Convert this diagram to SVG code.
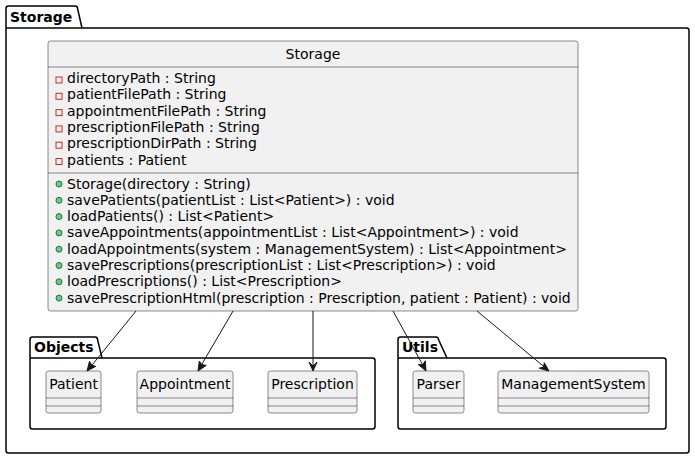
<svg xmlns="http://www.w3.org/2000/svg" width="695" height="459" viewBox="0 0 695 459">
<style>
text{font-family:"DejaVu Sans",sans-serif;font-size:14px;fill:#000}
.pkg{fill:none;stroke:#000;stroke-width:1.5}
.pt{font-weight:bold}
.cls{fill:#F1F1F1;stroke:#181818;stroke-width:0.5}
.sep{stroke:#181818;stroke-width:0.5}
.priv{fill:none;stroke:#C82930;stroke-width:1}
.pub{fill:#84BE84;stroke:#038048;stroke-width:1}
.edge{stroke:#181818;stroke-width:1;fill:none}
.head{fill:#181818;stroke:#181818;stroke-width:1}
</style>
<g id="pkg-storage">
<path class="pkg" d="M8.5,6 L75,6 A2.5,2.5 0 0 1 77.5,8.5 L82,28 L686.5,28 A2.5,2.5 0 0 1 689,30.5 L689,450.5 A2.5,2.5 0 0 1 686.5,453 L8.5,453 A2.5,2.5 0 0 1 6,450.5 L6,8.5 A2.5,2.5 0 0 1 8.5,6 Z"/>
<line class="pkg" x1="6" y1="28" x2="82" y2="28"/>
<text class="pt" x="10" y="22">Storage</text>
</g>
<g id="pkg-objects">
<path class="pkg" d="M32.5,337 L95,337 A2.5,2.5 0 0 1 97.5,339.5 L102,358 L372.5,358 A2.5,2.5 0 0 1 375,360.5 L375,426.5 A2.5,2.5 0 0 1 372.5,429 L32.5,429 A2.5,2.5 0 0 1 30,426.5 L30,339.5 A2.5,2.5 0 0 1 32.5,337 Z"/>
<line class="pkg" x1="30" y1="358" x2="102" y2="358"/>
<text class="pt" x="34" y="352">Objects</text>
</g>
<g id="pkg-utils">
<path class="pkg" d="M400.5,337 L436,337 A2.5,2.5 0 0 1 438.5,339.5 L447,358 L663.5,358 A2.5,2.5 0 0 1 666,360.5 L666,426.5 A2.5,2.5 0 0 1 663.5,429 L400.5,429 A2.5,2.5 0 0 1 398,426.5 L398,339.5 A2.5,2.5 0 0 1 400.5,337 Z"/>
<line class="pkg" x1="398" y1="358" x2="447" y2="358"/>
<text class="pt" x="402" y="352">Utils</text>
</g>
<g id="class-storage">
<rect class="cls" x="48" y="41" width="530" height="270" rx="2.5"/>
<text x="313" y="59" text-anchor="middle">Storage</text>
<line class="sep" x1="48" y1="67" x2="578" y2="67"/>
<rect class="priv" x="56" y="77" width="6" height="6"/><text x="67" y="83">directoryPath : String</text>
<rect class="priv" x="56" y="93.3" width="6" height="6"/><text x="67" y="99.3">patientFilePath : String</text>
<rect class="priv" x="56" y="109.6" width="6" height="6"/><text x="67" y="115.6">appointmentFilePath : String</text>
<rect class="priv" x="56" y="125.9" width="6" height="6"/><text x="67" y="131.9">prescriptionFilePath : String</text>
<rect class="priv" x="56" y="142.2" width="6" height="6"/><text x="67" y="148.2">prescriptionDirPath : String</text>
<rect class="priv" x="56" y="158.5" width="6" height="6"/><text x="67" y="164.5">patients : Patient</text>
<line class="sep" x1="48" y1="173" x2="578" y2="173"/>
<circle class="pub" cx="59" cy="184" r="3"/><text x="67" y="188.5">Storage(directory : String)</text>
<circle class="pub" cx="59" cy="200.3" r="3"/><text x="67" y="204.8">savePatients(patientList : List&lt;Patient&gt;) : void</text>
<circle class="pub" cx="59" cy="216.6" r="3"/><text x="67" y="221.1">loadPatients() : List&lt;Patient&gt;</text>
<circle class="pub" cx="59" cy="232.9" r="3"/><text x="67" y="237.4">saveAppointments(appointmentList : List&lt;Appointment&gt;) : void</text>
<circle class="pub" cx="59" cy="249.2" r="3"/><text x="67" y="253.7">loadAppointments(system : ManagementSystem) : List&lt;Appointment&gt;</text>
<circle class="pub" cx="59" cy="265.5" r="3"/><text x="67" y="270">savePrescriptions(prescriptionList : List&lt;Prescription&gt;) : void</text>
<circle class="pub" cx="59" cy="281.8" r="3"/><text x="67" y="286.3">loadPrescriptions() : List&lt;Prescription&gt;</text>
<circle class="pub" cx="59" cy="298.1" r="3"/><text x="67" y="302.6">savePrescriptionHtml(prescription : Prescription, patient : Patient) : void</text>
</g>
<g id="class-patient">
<rect class="cls" x="46" y="371" width="55" height="42" rx="2.5"/>
<text x="73.5" y="389" text-anchor="middle">Patient</text>
<line class="sep" x1="46" y1="398" x2="101" y2="398"/>
<line class="sep" x1="46" y1="406" x2="101" y2="406"/>
</g>
<g id="class-appointment">
<rect class="cls" x="137" y="371" width="96" height="42" rx="2.5"/>
<text x="185" y="389" text-anchor="middle">Appointment</text>
<line class="sep" x1="137" y1="398" x2="233" y2="398"/>
<line class="sep" x1="137" y1="406" x2="233" y2="406"/>
</g>
<g id="class-prescription">
<rect class="cls" x="268" y="371" width="89" height="42" rx="2.5"/>
<text x="312.5" y="389" text-anchor="middle">Prescription</text>
<line class="sep" x1="268" y1="398" x2="357" y2="398"/>
<line class="sep" x1="268" y1="406" x2="357" y2="406"/>
</g>
<g id="class-parser">
<rect class="cls" x="413" y="371" width="51" height="42" rx="2.5"/>
<text x="438.5" y="389" text-anchor="middle">Parser</text>
<line class="sep" x1="413" y1="398" x2="464" y2="398"/>
<line class="sep" x1="413" y1="406" x2="464" y2="406"/>
</g>
<g id="class-managementsystem">
<rect class="cls" x="498" y="371" width="151" height="42" rx="2.5"/>
<text x="573.5" y="389" text-anchor="middle">ManagementSystem</text>
<line class="sep" x1="498" y1="398" x2="649" y2="398"/>
<line class="sep" x1="498" y1="406" x2="649" y2="406"/>
</g>
<g id="connectors">
<line class="edge" x1="136" y1="311" x2="88" y2="370"/>
<polygon class="head" points="87,371 89.5,361.3 91.6,365 95.7,366.4"/>
<line class="edge" x1="233" y1="311" x2="198.5" y2="370"/>
<polygon class="head" points="198,371 199.3,361.1 201.8,364.6 206.2,365.4"/>
<line class="edge" x1="313" y1="311" x2="313" y2="370"/>
<polygon class="head" points="313,371 309,362 313,366 317,362"/>
<line class="edge" x1="393" y1="311" x2="425.5" y2="370"/>
<polygon class="head" points="426,371 418.3,364.6 422.8,364.7 425.3,360.8"/>
<line class="edge" x1="477" y1="311" x2="548" y2="370"/>
<polygon class="head" points="549,371 539.2,368.2 543.5,367 544.3,362.7"/>
</g>
</svg>
